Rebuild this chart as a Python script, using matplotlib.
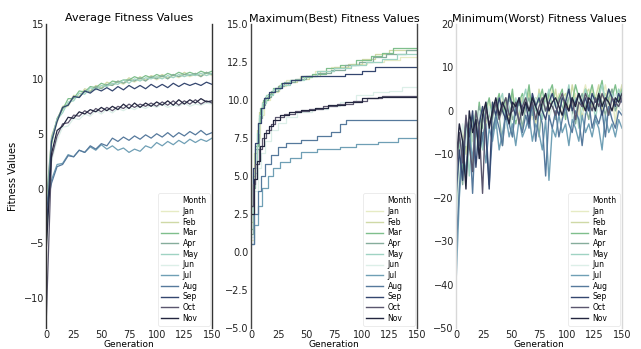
import numpy as np
import matplotlib
matplotlib.use("Agg")
import matplotlib.pyplot as plt
from matplotlib.lines import Line2D

months = ["Jan", "Feb", "Mar", "Apr", "May", "Jun", "Jul", "Aug", "Sep", "Oct", "Nov"]
colors = ["#e6ebc4", "#cfd9a6", "#7fbf8c", "#86ad9c", "#9fd3c3", "#dcefe8",
          "#6f9fb5", "#56799c", "#34466f", "#5b566e", "#23263f"]

# ---- average fitness, sampled every 5 generations ----
gen_avg = np.arange(0, 151, 5)
avg = {
    "Jan": [-4.0, 4.2, 6.0, 7.3, 7.5, 8.3, 8.4, 8.9, 8.8, 9.3, 9.1, 9.5, 9.4, 9.7, 9.5, 9.9,
            9.7, 10.0, 9.8, 10.2, 9.9, 10.2, 10.0, 10.3, 10.1, 10.4, 10.2, 10.4, 10.2, 10.5, 10.3],
    "Feb": [-2.5, 4.8, 6.2, 7.5, 7.7, 8.5, 8.4, 9.1, 8.9, 9.4, 9.2, 9.7, 9.5, 9.8, 9.6, 10.1,
            9.8, 10.2, 9.9, 10.3, 10.1, 10.4, 10.1, 10.4, 10.2, 10.6, 10.3, 10.5, 10.3, 10.6, 10.4],
    "Mar": [-5.5, 4.0, 6.4, 7.2, 8.2, 8.2, 8.9, 8.8, 9.3, 9.2, 9.6, 9.4, 9.8, 9.7, 9.9, 9.9,
            10.2, 10.0, 10.3, 10.1, 10.4, 10.2, 10.5, 10.3, 10.6, 10.4, 10.6, 10.4, 10.7, 10.5, 10.7],
    "Apr": [-1.5, 4.6, 6.3, 7.4, 7.6, 8.4, 8.3, 8.9, 8.8, 9.3, 9.1, 9.5, 9.4, 9.8, 9.6, 9.9,
            9.8, 10.1, 9.8, 10.2, 10.0, 10.3, 10.0, 10.4, 10.2, 10.4, 10.3, 10.5, 10.2, 10.6, 10.4],
    "May": [-3.5, 4.4, 6.3, 6.9, 7.9, 8.0, 8.7, 8.6, 9.2, 9.0, 9.4, 9.3, 9.6, 9.5, 9.9, 9.6,
            10.0, 9.8, 10.1, 10.0, 10.2, 10.0, 10.3, 10.1, 10.4, 10.2, 10.4, 10.3, 10.5, 10.3, 10.5],
    "Jun": [-3.0, 2.5, 4.4, 5.6, 5.7, 6.4, 6.3, 6.8, 6.6, 7.1, 6.8, 7.2, 6.9, 7.3, 7.1, 7.4,
            7.2, 7.5, 7.3, 7.6, 7.4, 7.7, 7.4, 7.6, 7.5, 7.8, 7.5, 7.7, 7.6, 7.8, 7.7],
    "Jul": [-1.5, 0.8, 2.2, 2.3, 3.1, 2.9, 3.5, 3.3, 3.8, 3.5, 4.0, 3.6, 3.9, 3.5, 3.7, 3.3,
            3.6, 3.4, 3.9, 3.7, 4.2, 3.9, 4.3, 4.0, 4.4, 4.1, 4.5, 4.2, 4.5, 4.3, 4.6],
    "Aug": [-2.0, 0.5, 2.0, 2.2, 3.0, 2.9, 3.5, 3.3, 3.9, 3.6, 4.1, 3.9, 4.6, 4.3, 4.7, 4.4,
            4.8, 4.5, 4.9, 4.6, 5.0, 4.7, 5.1, 4.7, 5.1, 4.8, 5.2, 4.9, 5.3, 4.9, 5.1],
    "Sep": [-4.5, 4.3, 6.1, 7.4, 7.6, 8.4, 8.3, 8.9, 8.7, 9.1, 8.9, 9.2, 8.9, 9.3, 9.0, 9.4,
            9.1, 9.4, 9.1, 9.5, 9.2, 9.5, 9.2, 9.6, 9.3, 9.6, 9.4, 9.6, 9.4, 9.7, 9.5],
    "Oct": [-12.7, 2.8, 4.8, 5.9, 6.0, 6.7, 6.6, 7.1, 6.8, 7.3, 7.0, 7.4, 7.1, 7.5, 7.3, 7.7,
            7.4, 7.7, 7.5, 7.8, 7.5, 7.9, 7.6, 8.0, 7.6, 8.0, 7.7, 8.1, 7.7, 8.0, 7.8],
    "Nov": [-6.0, 3.2, 5.3, 5.7, 6.5, 6.4, 7.0, 6.8, 7.2, 7.0, 7.4, 7.1, 7.5, 7.2, 7.7, 7.3,
            7.8, 7.4, 7.8, 7.5, 7.9, 7.6, 8.0, 7.6, 8.1, 7.7, 8.1, 7.8, 8.2, 7.9, 8.0],
}

# ---- best fitness: generations where the best value changed ----
max_gen = {
    "Jan": [0, 3, 5, 8, 12, 17, 24, 32, 44, 58, 72, 90, 105, 120, 135, 150],
    "Feb": [0, 2, 3, 5, 7, 10, 14, 19, 25, 33, 42, 52, 62, 75, 88, 100, 112, 125, 150],
    "Mar": [0, 2, 4, 6, 8, 11, 15, 20, 27, 35, 45, 55, 68, 80, 95, 108, 118, 128, 150],
    "Apr": [0, 2, 4, 7, 10, 13, 18, 24, 30, 40, 50, 60, 72, 85, 98, 110, 122, 140, 150],
    "May": [0, 2, 5, 7, 10, 14, 20, 26, 35, 48, 60, 75, 90, 104, 118, 132, 150],
    "Jun": [0, 3, 6, 9, 13, 18, 24, 32, 42, 55, 70, 80, 95, 110, 125, 136, 150],
    "Jul": [0, 3, 6, 10, 15, 20, 26, 35, 45, 60, 80, 95, 115, 133, 150],
    "Aug": [0, 3, 6, 9, 13, 18, 24, 32, 45, 60, 72, 80, 86, 150],
    "Sep": [0, 2, 4, 6, 9, 12, 16, 22, 28, 36, 45, 85, 100, 112, 150],
    "Oct": [0, 2, 4, 7, 10, 14, 18, 22, 30, 40, 52, 65, 78, 92, 105, 118, 150],
    "Nov": [0, 3, 5, 8, 12, 16, 20, 26, 34, 45, 58, 70, 85, 100, 115, 150],
}
max_val = {
    "Jan": [0.8, 5.5, 7.5, 9.0, 10.0, 10.5, 10.9, 11.3, 11.6, 11.9, 12.2, 12.4, 12.5, 12.6, 12.8, 12.8],
    "Feb": [2.0, 4.5, 6.5, 8.0, 9.2, 9.9, 10.3, 10.6, 11.0, 11.2, 11.4, 11.6, 11.9, 12.2, 12.4, 12.7, 13.0, 13.3, 13.3],
    "Mar": [1.5, 5.0, 7.0, 8.5, 9.5, 10.0, 10.4, 10.8, 11.1, 11.3, 11.5, 11.7, 12.1, 12.3, 12.6, 12.9, 13.1, 13.45, 13.45],
    "Apr": [1.2, 4.2, 6.8, 8.8, 9.7, 10.2, 10.6, 10.9, 11.2, 11.4, 11.6, 11.8, 12.0, 12.3, 12.5, 12.8, 13.0, 13.3, 13.3],
    "May": [2.5, 5.2, 7.8, 9.0, 9.8, 10.3, 10.7, 11.0, 11.3, 11.6, 11.9, 12.1, 12.3, 12.5, 12.7, 13.0, 13.0],
    "Jun": [1.0, 4.0, 5.5, 6.5, 7.3, 8.0, 8.5, 8.9, 9.2, 9.4, 9.6, 9.9, 10.3, 10.5, 10.6, 10.86, 10.86],
    "Jul": [0.5, 1.8, 3.0, 4.2, 5.0, 5.5, 5.9, 6.2, 6.6, 6.75, 6.9, 7.1, 7.25, 7.5, 7.6],
    "Aug": [0.5, 2.5, 4.0, 5.0, 5.8, 6.4, 6.9, 7.2, 7.4, 7.6, 7.9, 8.4, 8.7, 8.7],
    "Sep": [3.0, 5.5, 7.2, 8.5, 9.5, 10.1, 10.5, 10.8, 11.1, 11.3, 11.6, 11.7, 11.9, 12.2, 12.2],
    "Oct": [3.0, 4.5, 5.8, 6.8, 7.5, 8.0, 8.4, 8.9, 9.1, 9.3, 9.4, 9.6, 9.75, 9.95, 10.1, 10.27, 10.27],
    "Nov": [2.5, 4.8, 6.0, 7.0, 7.8, 8.3, 8.7, 9.0, 9.2, 9.35, 9.5, 9.7, 9.9, 10.1, 10.2, 10.2],
}

# ---- worst fitness, sampled every 3 generations ----
gen_min = np.arange(0, 151, 3)
mins = {
    "Jan": [-28, -12, -6, -9, -3, -7, -1, -5, 0, -4, 2, -3, 1, -2, 3, -1, 4, 0, 2, -3,
            3, 1, 5, -2, 2, 4, 0, 3, -1, 5, 2, 4, -2, 3, 5, 1, 4, -1, 3, 6,
            2, 5, 0, 4, 3, 6, 1, 4, -3, 5, 3],
    "Feb": [-22, -15, -4, -10, -2, -6, 0, -8, 1, -3, -1, 2, -4, 3, 0, 2, -2, 4, 1, -1,
            3, 0, 4, 2, -3, 5, 2, 0, 4, 1, 5, -1, 3, 4, 0, 6, 2, 3, -2, 4,
            5, 1, 3, 6, 0, 4, 2, 5, 1, 3, 6],
    "Mar": [-35, -8, -14, -3, -9, -1, -6, 2, -4, 0, 3, -2, 1, 4, -1, 3, 0, 5, -3, 2,
            4, 1, 6, -1, 3, 2, 5, 0, 4, 6, 1, 3, 5, -2, 4, 2, 6, 3, 0, 5,
            3, 6, 2, 4, 7, 1, 5, 3, 6, 2, 5],
    "Apr": [-18, -10, -17, -5, -2, -12, -4, 1, -7, -2, 0, -5, 2, -1, -8, 1, 3, -2, 0, 2,
            -4, 1, 3, -1, 2, -6, 1, 4, 0, 2, -2, 3, 1, -1, 4, 0, -3, 2, 4, 1,
            -2, 3, 0, 4, 2, -1, 3, 5, 0, 2, 4],
    "May": [-25, -6, -11, -2, -15, -4, 0, -3, -9, 2, -1, 1, -4, 2, 4, -2, 1, -6, 3, 0,
            2, 5, -1, 3, 0, 4, -2, 2, 5, 1, 3, -1, 4, 2, 6, 0, 3, -4, 2, 5,
            1, 4, -2, 3, 6, 2, -1, 4, 2, 5, 3],
    "Jun": [-30, -14, -3, -8, -1, -5, -10, 0, -2, -6, 1, -3, 0, 3, -1, -4, 2, 0, -2, 1,
            -1, 2, -3, 1, 3, -1, 0, 2, -2, 1, 3, 0, -1, 2, 4, -2, 1, 3, 0, -1,
            2, 4, 0, 1, -2, 3, 0, 2, 4, 1, 0],
    "Jul": [-40, -20, -9, -14, -6, -11, -3, -8, -5, -12, -4, -7, -2, -9, -5, -1, -6, -3, -8, -2,
            -6, -4, -1, -7, -3, -5, -9, -2, -16, -4, -6, -1, -5, -3, -8, -2, -4, -7, -1, -5,
            -3, -6, -2, -4, -9, -1, -5, -3, -6, -2, -4],
    "Aug": [-33, -18, -7, -16, -4, -19, -2, -10, -6, -3, -17, -5, -1, -4, -8, 0, -3, -6, 1, -2,
            -5, -1, -4, 2, -7, 0, -3, -15, -1, -4, 0, -6, -2, 1, -3, -5, 0, -2, -8, -1,
            2, -4, -1, -3, 0, -6, 1, -2, -4, 0, -1],
    "Sep": [-20, -9, -16, -2, -6, 0, -13, -3, 1, -5, -18, 2, -1, 3, 0, -2, 4, 1, -1, 3,
            0, 2, -3, 4, 1, 3, 0, -2, 2, 4, 1, -1, 3, 2, 5, 0, 2, 4, 1, 3,
            0, 4, 2, 3, -1, 2, 5, 3, 1, 4, 2],
    "Oct": [-15, -5, -12, -1, -8, -14, 0, -4, -19, 1, -3, -1, 2, -2, 1, 3, -1, 0, 2, -3,
            1, 3, 0, 2, -2, 1, 3, 0, 2, 1, -1, 2, 4, 1, 0, 3, -2, 2, 1, 4,
            2, 0, 3, 1, 4, 2, -1, 3, 2, 1, 3],
    "Nov": [-12, -3, -7, -18, 0, -5, -2, -11, -1, 2, -4, 0, 3, -1, 2, 0, -3, 2, 1, 3,
            -1, 2, 0, 3, 1, -1, 2, 4, 0, 2, 3, 1, -1, 2, 0, 3, 1, 4, 2, 0,
            3, 2, 0, 4, 1, 3, 2, 0, 3, 2, 4],
}

plt.rcParams["font.family"] = ["DejaVu Sans"]
fig = plt.figure(figsize=(6.41, 3.49), dpi=100)
W, H = 641.0, 349.0
lefts = [46, 251, 456]
axes = [fig.add_axes([l / W, 21 / H, 166 / W, 304 / H]) for l in lefts]


def style(ax, title, spine_color):
    ax.set_title(title, fontsize=8, pad=2)
    ax.set_xlim(0, 150)
    ax.set_xticks([0, 25, 50, 75, 100, 125, 150])
    ax.tick_params(length=0, labelsize=7, pad=1.5, colors="#222222")
    ax.set_xlabel("Generation", fontsize=6.5, labelpad=0)
    for s in ["top", "bottom"]:
        ax.spines[s].set_visible(False)
    for s in ["left", "right"]:
        ax.spines[s].set_color(spine_color)
        ax.spines[s].set_linewidth(1.0)
    handles = [Line2D([], [], color="none")]
    handles += [Line2D([], [], color=c, lw=1.0) for c in colors]
    leg = ax.legend(handles, ["Month"] + months, loc="lower right", fontsize=5.5,
                    labelspacing=0.22, handlelength=2.2, handletextpad=0.6,
                    borderpad=0.4, borderaxespad=0.3, frameon=True)
    leg.get_frame().set_edgecolor("#e4e4e4")
    leg.get_frame().set_linewidth(0.6)


# panel 1
ax = axes[0]
for m, c in zip(months, colors):
    ax.plot(gen_avg, avg[m], color=c, lw=0.9)
ax.set_ylim(-12.7, 15)
ax.set_yticks([-10, -5, 0, 5, 10, 15])
ax.set_ylabel("Fitness Values", fontsize=7, labelpad=4)
style(ax, "Average Fitness Values", "#333333")

# panel 2
ax = axes[1]
for m, c in zip(months, colors):
    ax.plot(max_gen[m], max_val[m], color=c, lw=0.9, drawstyle="steps-post")
ax.set_ylim(-5, 15)
ax.set_yticks([-5, -2.5, 0, 2.5, 5, 7.5, 10, 12.5, 15])
ax.set_yticklabels(["−5.0", "−2.5", "0.0", "2.5", "5.0", "7.5", "10.0", "12.5", "15.0"])
style(ax, "Maximum(Best) Fitness Values", "#444444")

# panel 3
ax = axes[2]
for m, c in zip(months, colors):
    ax.plot(gen_min, mins[m], color=c, lw=1.0)
ax.set_ylim(-50, 20)
ax.set_yticks([-50, -40, -30, -20, -10, 0, 10, 20])
style(ax, "Minimum(Worst) Fitness Values", "#d8d8d8")

fig.savefig("out.png", dpi=100)
